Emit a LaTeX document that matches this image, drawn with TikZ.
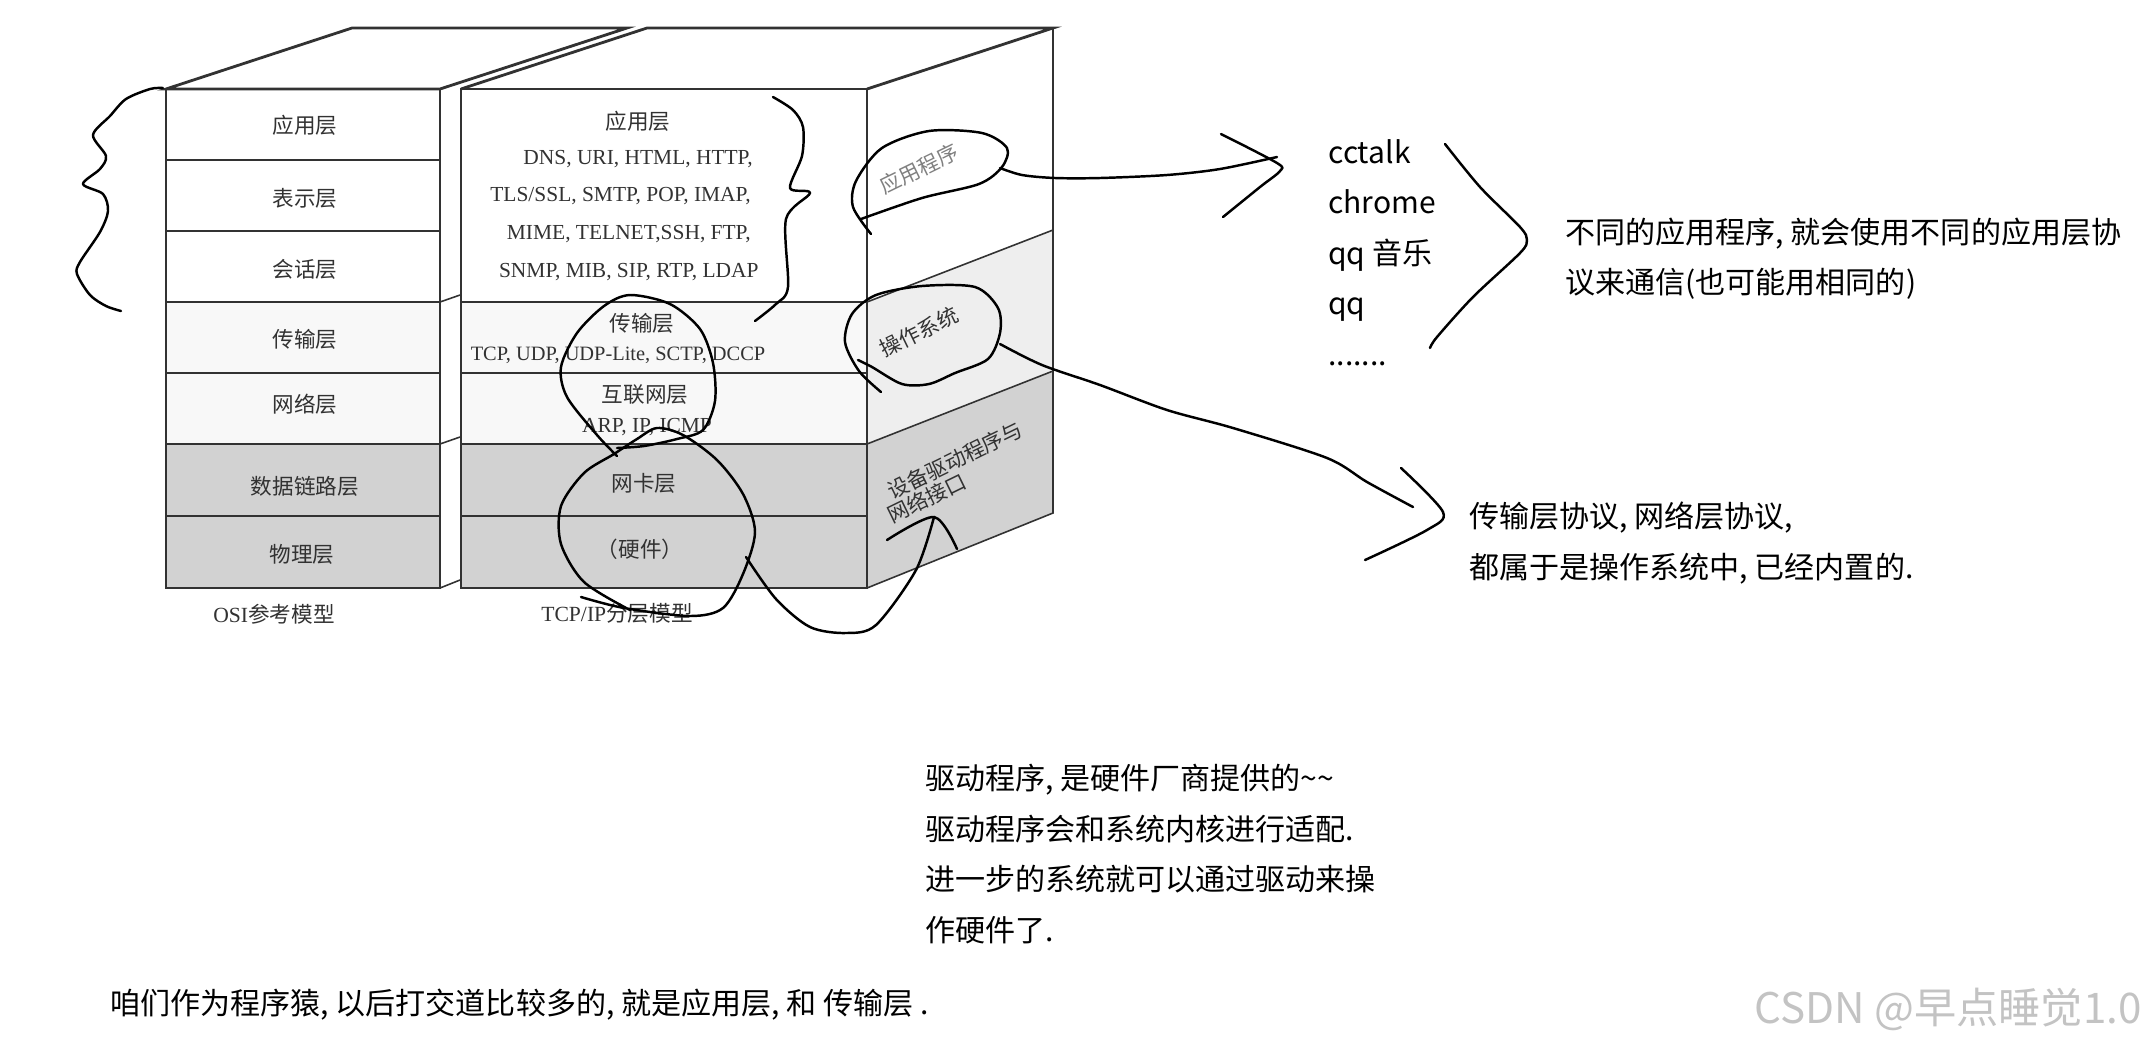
\documentclass[tikz,border=0pt]{standalone}
\usepackage{fontspec}
\setmainfont{Noto Sans CJK SC}
\newfontfamily\protofont{Liberation Serif}
\usepackage{tikz}
\definecolor{inkgray}{RGB}{50,50,50}
\definecolor{osband}{RGB}{248,248,248}
\definecolor{osside}{RGB}{238,238,238}
\definecolor{hwband}{RGB}{210,210,210}
\definecolor{markgray}{RGB}{195,195,195}
\tikzset{
  edgeline/.style={draw=inkgray,line width=1.6pt},
  thinedge/.style={draw=inkgray,line width=0.9pt},
  layertxt/.style={text=inkgray,font=\fontsize{12.3}{12.3}\selectfont},
  prototxt/.style={text=inkgray,font=\protofont\fontsize{12.2}{12.2}\selectfont},
  sidetxt/.style={text=inkgray,rotate=26,font=\fontsize{12}{12}\selectfont},
  note/.style={anchor=west,text=black,text height=13pt,text depth=4pt,yshift=-2.2pt,font=\fontsize{17.1}{17.1}\selectfont},
  hand/.style={black,line width=1.4pt,line cap=round,line join=round}
}
\begin{document}
\begin{tikzpicture}[x=0.02cm,y=-0.02cm,every node/.style={inner sep=0pt}]
  \useasboundingbox (0,0) rectangle (2146,1046);
  % osi block
  \fill[osband] (166,302) rectangle (440,444);
  \fill[hwband] (166,444) rectangle (440,588);
  \path[edgeline] (166,89)--(352,28)--(627,28)--(440,89)--cycle;
  \draw[edgeline] (166,89) rectangle (440,588);
  \draw[edgeline] (166,160)--(440,160);\draw[edgeline] (166,231)--(440,231);
  \draw[edgeline] (166,302)--(440,302);\draw[edgeline] (166,373)--(440,373);
  \draw[edgeline] (166,444)--(440,444);\draw[edgeline] (166,516)--(440,516);
  \draw[thinedge] (440,89)--(627,28);\draw[thinedge] (440,302)--(460,295);
  \draw[thinedge] (440,444)--(460,437);\draw[thinedge] (440,588)--(460,580);
  % tcp/ip block
  \fill[osband] (461,302) rectangle (867,444);
  \fill[hwband] (461,444) rectangle (867,588);
  \fill[osside] (867,302)--(1053,230)--(1053,371)--(867,444)--cycle;
  \fill[hwband] (867,444)--(1053,371)--(1053,513)--(867,588)--cycle;
  \draw[edgeline] (461,89)--(647,28)--(1053,28)--(867,89);
  \draw[edgeline] (461,89) rectangle (867,588);
  \draw[thinedge] (1053,28)--(1053,513)--(867,588);
  \draw[thinedge] (867,302)--(1053,230);\draw[thinedge] (867,444)--(1053,371);
  \draw[edgeline] (461,302)--(867,302);\draw[edgeline] (461,373)--(867,373);
  \draw[edgeline] (461,444)--(867,444);\draw[edgeline] (461,516)--(867,516);
  % layer names
  \node[layertxt](osi1) at(305,125){应用层};\node[layertxt](osi2) at(305,198){表示层};
  \node[layertxt](osi3) at(305,269){会话层};\node[layertxt](osi4) at(305,339){传输层};
  \node[layertxt](osi5) at(305,404){网络层};\node[layertxt](osi6) at(305,486){数据链路层};
  \node[layertxt](osi7) at(302,554){物理层};
  \node[layertxt](osiname) at(274,614){\protofont OSI\rmfamily 参考模型};
  \node[layertxt](tcp1) at(638,121){应用层};
  \node[prototxt,anchor=east](dns) at(753,159){DNS, URI, HTML, HTTP,};
  \node[prototxt,anchor=east](tls) at(751,196){TLS/SSL, SMTP, POP, IMAP,};
  \node[prototxt,anchor=east](mime) at(751,234){MIME, TELNET,SSH, FTP,};
  \node[prototxt,anchor=east](snmp) at(759,272){SNMP, MIB, SIP, RTP, LDAP};
  \node[layertxt](tcp2) at(642,323){传输层};
  \node[prototxt,font=\protofont\fontsize{11.6}{11.6}\selectfont](tcpudp) at(618,355){TCP, UDP, UDP-Lite, SCTP, DCCP};
  \node[layertxt](tcp3) at(645,395){互联网层};
  \node[prototxt](arp) at(647,427){ARP, IP, ICMP};
  \node[layertxt](tcp4) at(644,483){网卡层};
  \node[layertxt](tcp5) at(640,549){（硬件）};
  \node[layertxt](tcpname) at(617,613){\protofont TCP/IP\rmfamily 分层模型};
  \node[sidetxt,text=gray](appside) at(919,169){应用程序};
  \node[sidetxt](osside) at(919,332){操作系统};
  \node[sidetxt](drvside) at(955,460){设备驱动程序与};
  \node[sidetxt](netside) at(927,498){网络接口};
  % notes
  \node[note](cctalk) at(1328,152){cctalk};\node[note](chrome) at(1328,202){chrome};
  \node[note](music) at(1328,253){qq 音乐};\node[note](qq) at(1328,303){qq};
  \node[note](dots) at(1328,354){.......};
  \node[note](appnote1) at(1565,232){不同的应用程序, 就会使用不同的应用层协};
  \node[note](appnote2) at(1565,282){议来通信(也可能用相同的)};
  \node[note](osnote1) at(1469,516){传输层协议, 网络层协议,};
  \node[note](osnote2) at(1469,567){都属于是操作系统中, 已经内置的.};
  \node[note](drvnote1) at(925,778){驱动程序, 是硬件厂商提供的\textasciitilde\textasciitilde};
  \node[note](drvnote2) at(925,829){驱动程序会和系统内核进行适配.};
  \node[note](drvnote3) at(925,879){进一步的系统就可以通过驱动来操};
  \node[note](drvnote4) at(925,930){作硬件了.};
  \node[note](endnote) at(110,1003){咱们作为程序猿, 以后打交道比较多的, 就是应用层, 和 传输层 .};
  \node[anchor=east,text=markgray,font=\fontsize{24}{24}\selectfont](mark) at(2142,1009){CSDN @早点睡觉1.0};
  % hand marks
  \draw[hand] plot[smooth] coordinates {(163,88)(150,89)(126,99)(110,116)(93,135)(106,156)(100,169)(83,184)(103,194)(108,211)(100,232)(80,262)(77,274)(90,295)(106,306)(121,311)};
  \draw[hand] plot[smooth] coordinates {(773,97)(793,110)(803,127)(802,156)(790,188)(810,193)(786,219)(788,287)(776,304)(755,321)};
  \draw[hand] plot[smooth] coordinates {(871,234)(853,207)(856,181)(882,148)(929,131)(982,133)(1007,148)(1002,167)(979,184)(922,198)(861,219)};
  \draw[hand] plot[smooth] coordinates {(1000,168)(1022,175)(1055,178)(1100,178)(1167,175)(1220,169)(1277,157)};
  \draw[hand] plot[smooth] coordinates {(1221,134)(1277,163)(1280,171)(1260,187)(1223,217)};
  \draw[hand] plot[smooth] coordinates {(1445,144)(1480,187)(1520,227)(1527,240)(1520,253)(1473,297)(1437,337)(1430,348)};
  \draw[hand] plot[smooth] coordinates {(881,392)(859,371)(845,342)(852,314)(876,295)(922,286)(975,287)(998,308)(1000,333)(988,359)(955,373)(929,384)(902,384)(872,367)(858,360)};
  \draw[hand] plot[smooth] coordinates {(1000,344)(1042,365)(1100,385)(1167,410)(1233,428)(1327,458)(1367,482)(1413,507)};
  \draw[hand] plot[smooth] coordinates {(1401,468)(1443,512)(1427,530)(1365,560)};
  \draw[hand] plot[smooth] coordinates {(617,456)(597,435)(567,397)(561,367)(577,333)(604,306)(630,295)(670,304)(700,329)(713,363)(715,401)(703,430)(677,439)(644,446)(617,448)};
  \draw[hand] plot[smooth] coordinates {(581,597)(624,608)(690,616)(723,608)(743,574)(755,532)(743,494)(717,460)(683,435)(657,428)(637,439)(614,454)(584,473)(561,506)(561,544)(584,582)(630,610)};
  \draw[hand] plot[smooth] coordinates {(746,557)(776,599)(810,627)(846,633)(876,625)(916,570)(934,517)};
  \draw[hand] plot[smooth] coordinates {(887,540)(934,517)(957,549)};
\end{tikzpicture}
\end{document}
